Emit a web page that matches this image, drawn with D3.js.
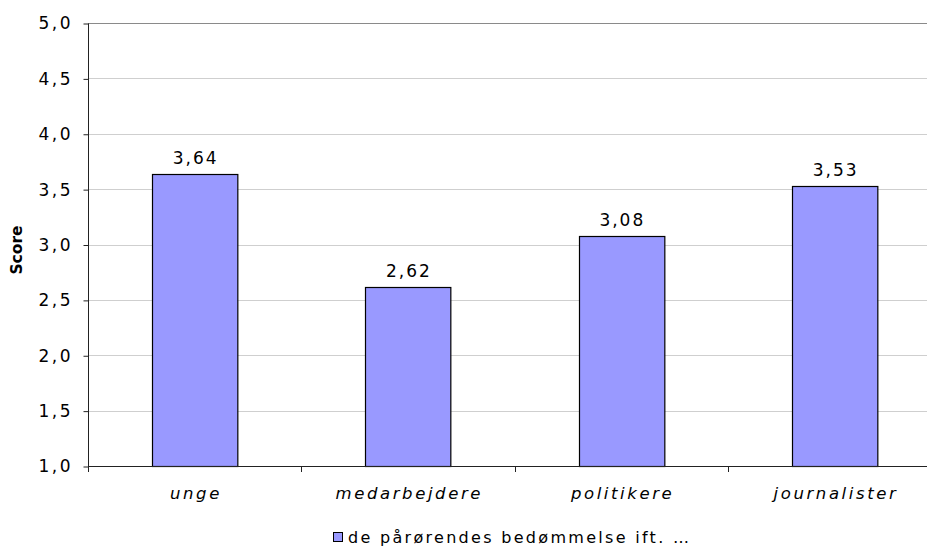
<!DOCTYPE html>
<html>
<head>
<meta charset="utf-8">
<script src="https://cdn.jsdelivr.net/npm/d3@7"></script>
<style>
  html, body { margin: 0; padding: 0; background: #fff; }
  svg { display: block; }
  text { font-family: "DejaVu Sans", Verdana, sans-serif; fill: #000; }
</style>
</head>
<body>
<svg id="chart" width="927" height="546"></svg>
<script>
const categories = ["unge", "medarbejdere", "politikere", "journalister"];
const values = [3.64, 2.62, 3.08, 3.53];
const yTicks = [1.0, 1.5, 2.0, 2.5, 3.0, 3.5, 4.0, 4.5, 5.0];
const seriesName = "de pårørendes bedømmelse ift. …";
const yTitle = "Score";

const fmt = v => d3.format(".1f")(v).replace(".", ",");
const fmt2 = v => d3.format(".2f")(v).replace(".", ",");

const svg = d3.select("#chart");
const pLeft = 88, pTop = 23, pBottom = 466, pRight = 941.3;

const y = d3.scaleLinear().domain([1, 5]).range([pBottom, pTop]);
const x = d3.scaleBand().domain(categories).range([pLeft, pRight]).paddingInner(0.6).paddingOuter(0.3);

// gridlines
svg.append("g").selectAll("line").data(yTicks.filter(t => t > 1)).join("line")
  .attr("x1", pLeft).attr("x2", 927)
  .attr("y1", d => Math.round(y(d)) + 0.5).attr("y2", d => Math.round(y(d)) + 0.5)
  .attr("stroke", d => d === 5 ? "#8a8a8a" : "#cfcfcf").attr("stroke-width", 1);

// bars
svg.append("g").selectAll("rect").data(values).join("rect")
  .attr("x", (d, i) => Math.round(x(categories[i])) + 0.5)
  .attr("y", d => Math.round(y(d)) + 0.5)
  .attr("width", x.bandwidth())
  .attr("height", d => Math.round(y(1)) - Math.round(y(d)))
  .attr("fill", "#9999ff").attr("stroke", "#000").attr("stroke-width", 1.2);

// value labels
const LSv = 2;
svg.append("g").selectAll("text").data(values).join("text")
  .attr("x", (d, i) => x(categories[i]) + x.bandwidth() / 2 + LSv / 2)
  .attr("y", d => y(d) - 10)
  .attr("text-anchor", "middle")
  .attr("font-size", 17).attr("letter-spacing", LSv)
  .text(d => fmt2(d));

// y axis
const LSt = 2.5;
const yAxis = d3.axisLeft(y).tickValues(yTicks).tickSize(5).tickPadding(13).tickFormat(fmt);
const gy = svg.append("g").attr("transform", `translate(${pLeft + 0.5},0.5)`).call(yAxis);
gy.select(".domain").attr("stroke", "#222").attr("d", `M0,${pTop}V${Math.round(pBottom)}`);
gy.selectAll(".tick line").attr("stroke", "#222");
gy.selectAll(".tick text").attr("font-size", 17).attr("letter-spacing", LSt)
  .attr("font-family", "DejaVu Sans, Verdana, sans-serif").attr("fill", "#000").attr("dx", LSt);

// x axis baseline and ticks at category boundaries
const boundaries = d3.range(categories.length + 1).map(i => pLeft + i * x.step());
svg.append("line").attr("x1", pLeft).attr("x2", 927)
  .attr("y1", Math.round(pBottom) + 0.5).attr("y2", Math.round(pBottom) + 0.5)
  .attr("stroke", "#222");
svg.append("g").selectAll("line").data(boundaries).join("line")
  .attr("x1", d => Math.round(d) + 0.5).attr("x2", d => Math.round(d) + 0.5)
  .attr("y1", Math.round(pBottom)).attr("y2", Math.round(pBottom) + 6)
  .attr("stroke", "#222");

// category labels
const LSc = 2.6;
svg.append("g").selectAll("text").data(categories).join("text")
  .attr("x", d => x(d) + x.bandwidth() / 2 + LSc / 2)
  .attr("y", 499)
  .attr("text-anchor", "middle")
  .attr("font-size", 16.5).attr("font-style", "italic").attr("letter-spacing", LSc)
  .text(d => d);

// y title
svg.append("text")
  .attr("transform", "translate(22,250) rotate(-90)")
  .attr("text-anchor", "middle")
  .attr("font-family", "Liberation Sans, Arial, sans-serif")
  .attr("font-size", 15.5).attr("font-weight", "bold")
  .text(yTitle);

// legend
const lg = svg.append("g");
lg.append("rect").attr("x", 333.5).attr("y", 532.5).attr("width", 9).attr("height", 9)
  .attr("fill", "#9999ff").attr("stroke", "#000").attr("stroke-width", 1);
lg.append("text").attr("x", 348).attr("y", 543)
  .attr("font-size", 16).attr("letter-spacing", 2.3)
  .text(seriesName);
</script>
</body>
</html>
